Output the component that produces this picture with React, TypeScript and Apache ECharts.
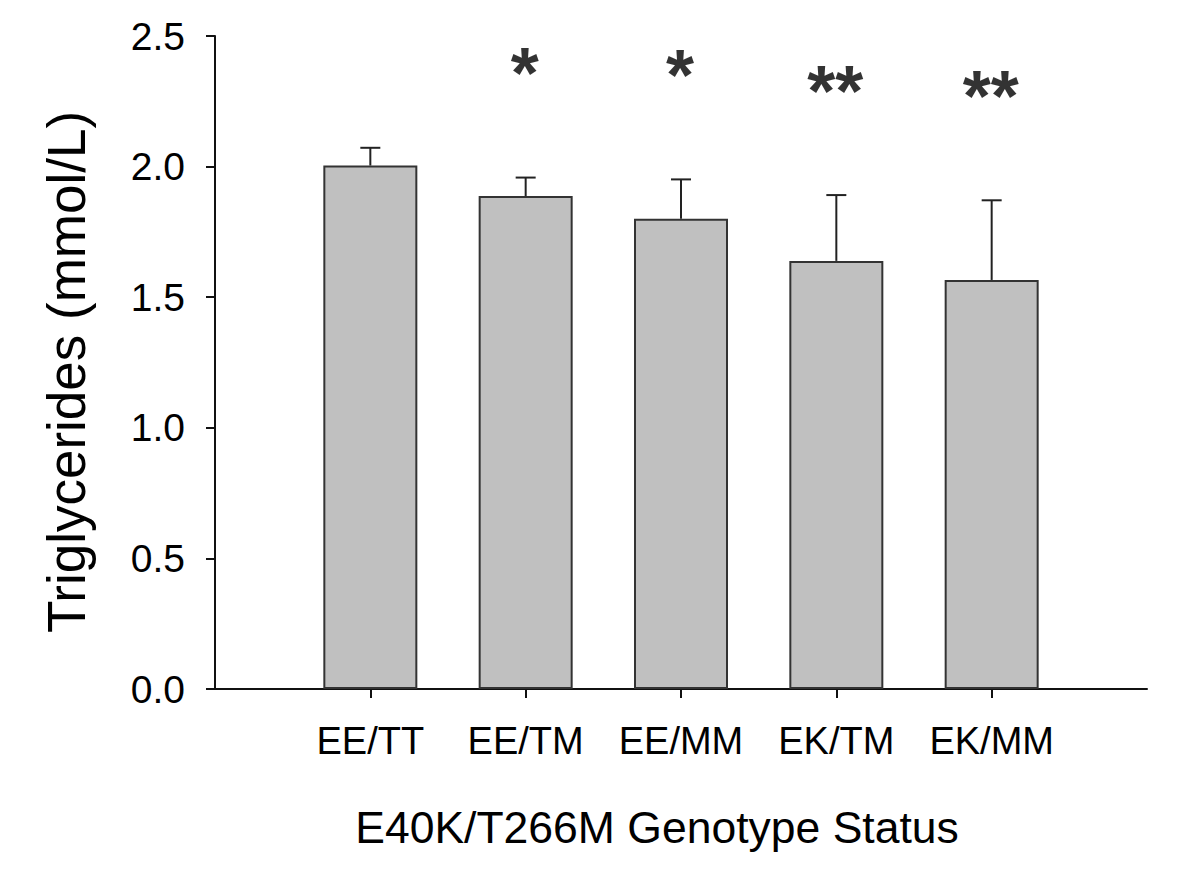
import React, { useEffect, useRef } from "react";
import * as echarts from "echarts";

const categories = ["EE/TT", "EE/TM", "EE/MM", "EK/TM", "EK/MM"];
const means = [2.004, 1.887, 1.8, 1.639, 1.566];
const errUpper = [2.072, 1.958, 1.951, 1.891, 1.871];
const significance = ["", "*", "*", "**", "**"];
const yTicks = [0, 0.5, 1.0, 1.5, 2.0, 2.5];
const yTitle = "Triglycerides (mmol/L)";
const xTitle = "E40K/T266M Genotype Status";

const FONT = "'Liberation Sans', Arial, Helvetica, sans-serif";

export default function App() {
  const ref = useRef<HTMLDivElement>(null);
  useEffect(() => {
    if (!ref.current) return;
    const chart = echarts.init(ref.current, null, { renderer: "svg" });
    const positions = categories.map((_, i) => i + 1);
    const barData = positions.map((p, i) => [p, means[i]]);
    const errData = positions.map((p, i) => [p, means[i], errUpper[i]]);
    const sigData = positions
      .map((p, i) => ({ value: [p, errUpper[i] + 0.43], label: significance[i] }))
      .filter((d) => d.label !== "");

    chart.setOption({
      animation: false,
      backgroundColor: "#ffffff",
      grid: { left: 215, right: 53, top: 36, bottom: 202, containLabel: false },
      xAxis: {
        type: "value",
        min: 0,
        max: categories.length + 1,
        interval: 1,
        splitLine: { show: false },
        axisLine: { show: true, lineStyle: { color: "#111", width: 2 } },
        axisTick: {
          show: true,
          length: 9,
          customValues: positions,
          lineStyle: { color: "#111", width: 2 },
        },
        axisLabel: {
          show: true,
          customValues: positions,
          margin: 33,
          fontSize: 38,
          fontFamily: FONT,
          color: "#000",
          formatter: (v: number) => categories[Math.round(v) - 1] ?? "",
        },
      },
      yAxis: {
        type: "value",
        min: 0,
        max: yTicks[yTicks.length - 1],
        interval: 0.5,
        splitLine: { show: false },
        axisLine: { show: true, lineStyle: { color: "#111", width: 2 } },
        axisTick: { show: true, length: 9, inside: false, lineStyle: { color: "#111", width: 2 } },
        axisLabel: {
          margin: 30,
          fontSize: 39,
          fontFamily: FONT,
          color: "#000",
          formatter: (v: number) => v.toFixed(1),
        },
      },
      graphic: [
        {
          type: "text",
          x: 66,
          y: 372,
          rotation: Math.PI / 2,
          style: {
            text: yTitle,
            fontSize: 53,
            fontFamily: FONT,
            fill: "#000",
            align: "center",
            verticalAlign: "middle",
          },
        },
        {
          type: "text",
          x: 657,
          y: 827,
          style: {
            text: xTitle,
            fontSize: 44.5,
            fontFamily: FONT,
            fill: "#000",
            align: "center",
            verticalAlign: "middle",
          },
        },
      ],
      series: [
        {
          type: "bar",
          data: barData,
          barWidth: 94,
          itemStyle: { color: "#c0c0c0", borderColor: "#333", borderWidth: 2 },
          z: 2,
        },
        {
          type: "custom",
          data: errData,
          z: 3,
          renderItem: (params: any, api: any) => {
            const x = api.value(0);
            const lo = api.coord([x, api.value(1)]);
            const hi = api.coord([x, api.value(2)]);
            const half = 10;
            return {
              type: "group",
              children: [
                {
                  type: "line",
                  shape: { x1: lo[0], y1: lo[1], x2: hi[0], y2: hi[1] },
                  style: { stroke: "#222", lineWidth: 2 },
                },
                {
                  type: "line",
                  shape: { x1: hi[0] - half, y1: hi[1], x2: hi[0] + half, y2: hi[1] },
                  style: { stroke: "#222", lineWidth: 2 },
                },
              ],
            };
          },
        },
        {
          type: "scatter",
          data: sigData.map((d) => ({ value: d.value, name: d.label })),
          symbolSize: 0,
          z: 4,
          label: {
            show: true,
            position: "inside",
            formatter: (p: any) => p.name,
            fontSize: 72,
            fontWeight: "bold",
            fontFamily: FONT,
            color: "#000",
            offset: [-1, 8],
          },
        },
      ],
    });
    return () => chart.dispose();
  }, []);
  return (
    <div
      ref={ref}
      style={{ position: "fixed", left: 0, top: 0, width: 1200, height: 891, background: "#fff" }}
    />
  );
}
